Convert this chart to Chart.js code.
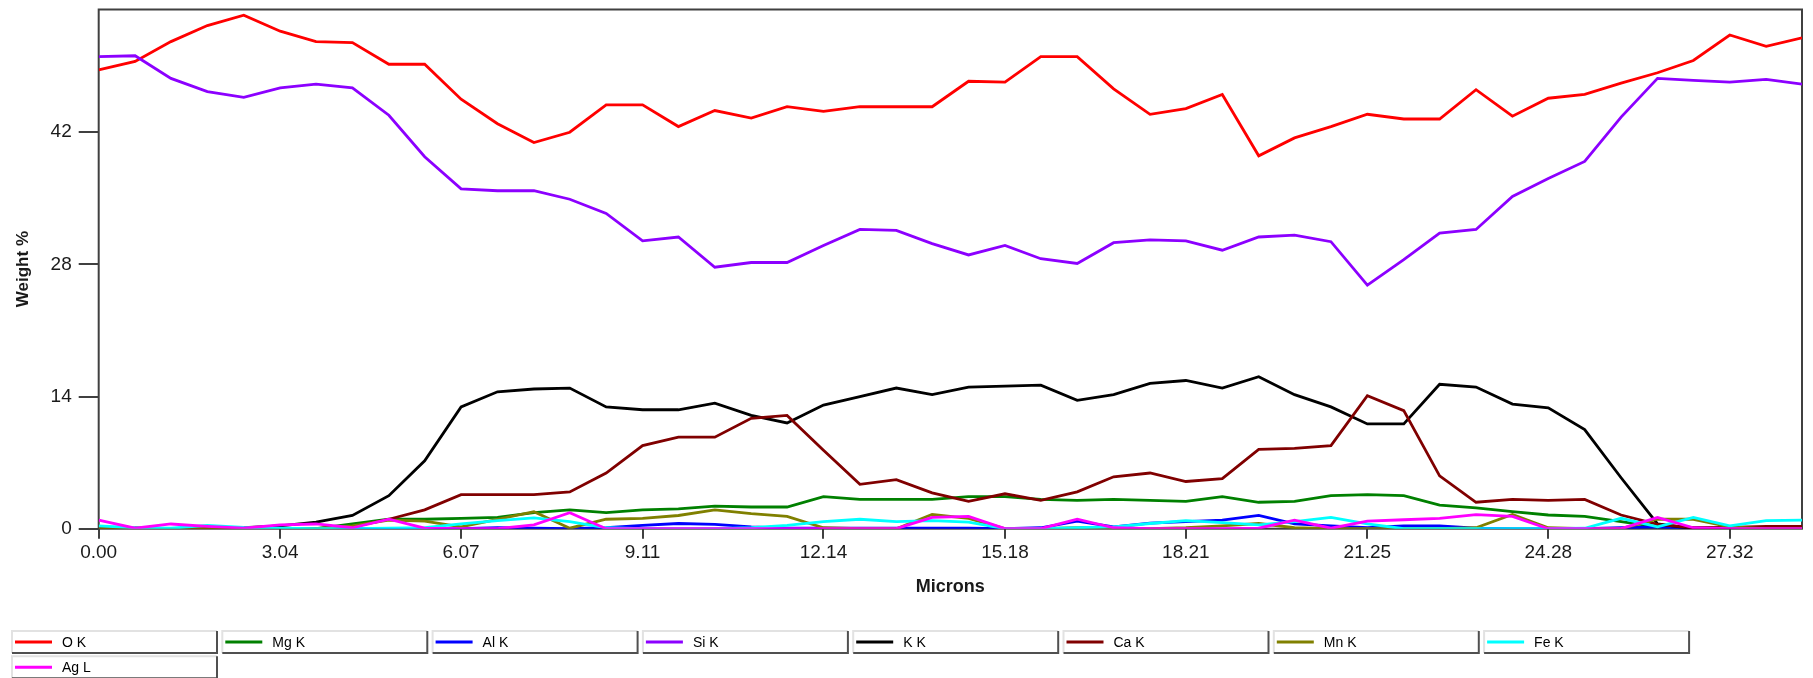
<!DOCTYPE html>
<html lang="en">
<head>
  <meta charset="UTF-8">
  <title>Line Scan - Weight % vs Microns</title>
  <script src="https://cdn.jsdelivr.net/npm/chart.js"></script>
  <style>
    body {
      margin: 0;
      background: #ffffff;
    }

    #wrap {
      width: 1813px;
      height: 678px;
    }
  </style>
</head>
<body>

  <div id="wrap"><canvas id="lineScan" width="1813" height="678"></canvas></div>

  <script>
    // distance along the scan, one reading every ~0.607 microns
    const MICRONS = [0.00, 0.61, 1.21, 1.82, 2.43, 3.04, 3.64, 4.25, 4.86, 5.46,
      6.07, 6.68, 7.29, 7.89, 8.50, 9.11, 9.71, 10.32, 10.93, 11.53,
      12.14, 12.75, 13.36, 13.96, 14.57, 15.18, 15.78, 16.39, 17.00, 17.61,
      18.21, 18.82, 19.43, 20.03, 20.64, 21.25, 21.86, 22.46, 23.07, 23.68,
      24.28, 24.89, 25.50, 26.11, 26.71, 27.32, 27.93, 28.53];

    const X_TICKS = [0.00, 3.04, 6.07, 9.11, 12.14, 15.18, 18.21, 21.25, 24.28, 27.32];
    const Y_TICKS = [0, 14, 28, 42];

    const ELEMENTS = ['O K', 'Mg K', 'Al K', 'Si K', 'K K', 'Ca K', 'Mn K', 'Fe K', 'Ag L'];
    const COLORS = ['#ff0000', '#008000', '#0000ff', '#8c00ff', '#000000', '#800000', '#808000', '#00ffff', '#ff00ff'];

    // weight % per element
    const O_K = [48.6, 49.5, 51.6, 53.3, 54.4, 52.7, 51.6, 51.5, 49.2, 49.2,
      45.5, 42.9, 40.9, 42.0, 44.9, 44.9, 42.6, 44.3, 43.5, 44.7,
      44.2, 44.7, 44.7, 44.7, 47.4, 47.3, 50.0, 50.0, 46.6, 43.9,
      44.5, 46.0, 39.5, 41.4, 42.6, 43.9, 43.4, 43.4, 46.5, 43.7,
      45.6, 46.0, 47.2, 48.3, 49.6, 52.3, 51.1, 52.0];
    const MG_K = [0, 0.1, 0, 0, 0, 0, 0, 0.5, 1.0, 1.0,
      1.1, 1.2, 1.7, 2.0, 1.7, 2.0, 2.1, 2.4, 2.3, 2.3,
      3.4, 3.1, 3.1, 3.1, 3.4, 3.4, 3.1, 3.0, 3.1, 3.0,
      2.9, 3.4, 2.8, 2.9, 3.5, 3.6, 3.5, 2.5, 2.2, 1.8,
      1.45, 1.3, 0.75, 0.2, 0.15, 0, 0, 0];
    const AL_K = [0, 0, 0, 0, 0, 0, 0, 0, 0, 0,
      0, 0.1, 0.05, 0, 0.1, 0.35, 0.55, 0.45, 0.2, 0.05,
      0.05, 0.05, 0.05, 0.05, 0.05, 0, 0.1, 0.8, 0.2, 0.6,
      0.75, 0.9, 1.4, 0.5, 0.3, 0.1, 0.3, 0.3, 0.05, 0,
      0, 0, 0.1, 0.2, 0, 0, 0, 0];
    const SI_K = [50.0, 50.1, 47.7, 46.3, 45.7, 46.7, 47.1, 46.7, 43.8, 39.4,
      36.0, 35.8, 35.8, 34.9, 33.4, 30.5, 30.9, 27.7, 28.2, 28.2,
      30.0, 31.7, 31.6, 30.2, 29.0, 30.0, 28.6, 28.1, 30.3, 30.6,
      30.5, 29.5, 30.9, 31.1, 30.4, 25.8, 28.5, 31.3, 31.7, 35.2,
      37.1, 38.9, 43.6, 47.7, 47.5, 47.3, 47.6, 47.1];
    const K_K = [0, 0, 0, 0.1, 0.1, 0.3, 0.7, 1.4, 3.5, 7.2,
      12.9, 14.5, 14.8, 14.9, 12.9, 12.6, 12.6, 13.3, 12.0, 11.2,
      13.1, 14.0, 14.9, 14.2, 15.0, 15.1, 15.2, 13.6, 14.2, 15.4,
      15.7, 14.9, 16.1, 14.2, 12.9, 11.1, 11.1, 15.3, 15.0, 13.2,
      12.8, 10.5, 5.4, 0.5, 0, 0, 0, 0];
    const CA_K = [0, 0, 0, 0, 0, 0, 0, 0.2, 1.0, 2.0,
      3.6, 3.6, 3.6, 3.9, 5.9, 8.8, 9.7, 9.7, 11.7, 12.0,
      8.3, 4.7, 5.2, 3.8, 2.9, 3.7, 3.0, 3.9, 5.5, 5.9,
      5.0, 5.3, 8.4, 8.5, 8.8, 14.1, 12.5, 5.6, 2.8, 3.1,
      3.0, 3.1, 1.45, 0.45, 0.1, 0.15, 0.25, 0.25];
    const MN_K = [0, 0, 0, 0, 0, 0, 0, 0.3, 0.9, 0.8,
      0.2, 1.0, 1.8, 0.05, 1.0, 1.1, 1.4, 2.0, 1.6, 1.3,
      0.1, 0, 0, 1.5, 1.1, 0, 0, 0.1, 0.1, 0,
      0.1, 0.3, 0.55, 0.1, 0, 0, 0, 0, 0.1, 1.5,
      0.1, 0, 0, 1.0, 1.0, 0.2, 0, 0];
    const FE_K = [0.3, 0.1, 0.05, 0.35, 0.15, 0.05, 0, 0, 0.05, 0.1,
      0.5, 0.85, 1.15, 0.75, 0.1, 0, 0, 0, 0.1, 0.35,
      0.75, 1.0, 0.75, 0.85, 0.7, 0, 0, 0.1, 0.2, 0.55,
      0.85, 0.65, 0.4, 0.75, 1.2, 0.5, 0, 0, 0, 0,
      0, 0.05, 1.1, 0.2, 1.2, 0.3, 0.85, 0.9];
    const AG_L = [0.9, 0.05, 0.5, 0.25, 0.05, 0.4, 0.5, 0.1, 1.0, 0.05,
      0, 0, 0.4, 1.7, 0, 0, 0, 0, 0, 0,
      0, 0, 0, 1.2, 1.3, 0, 0, 1.0, 0.1, 0,
      0, 0, 0.05, 0.9, 0.05, 0.8, 0.95, 1.1, 1.5, 1.3,
      0, 0, 0, 1.2, 0.1, 0, 0, 0];

    const SERIES = [O_K, MG_K, AL_K, SI_K, K_K, CA_K, MN_K, FE_K, AG_L];

    const FONT = "'Liberation Sans', Arial, sans-serif";
    const AXIS_GREY = '#404040';

    // box around the plot area
    const plotFrame = {
      id: 'plotFrame',
      beforeDatasetsDraw(chart) {
        const { ctx, chartArea: a } = chart;
        ctx.save();
        ctx.strokeStyle = AXIS_GREY;
        ctx.lineWidth = 2;
        ctx.strokeRect(a.left, a.top, a.right - a.left, a.bottom - a.top);
        ctx.restore();
      }
    };

    // legend drawn as a grid of bevelled boxes under the chart
    const boxLegend = {
      id: 'boxLegend',
      afterDraw(chart) {
        const ctx = chart.ctx;
        ctx.save();
        chart.data.datasets.forEach((ds, i) => {
          const x = 12 + (i % 8) * 210.3;
          const y = 631 + Math.floor(i / 8) * 25.3;
          const w = 205, h = 22;

          ctx.fillStyle = '#ffffff';
          ctx.fillRect(x, y, w, h);

          ctx.lineWidth = 2;
          ctx.strokeStyle = '#e2e2e2';
          ctx.beginPath();
          ctx.moveTo(x, y + h);
          ctx.lineTo(x, y);
          ctx.lineTo(x + w, y);
          ctx.stroke();

          ctx.strokeStyle = '#505050';
          ctx.beginPath();
          ctx.moveTo(x + w, y);
          ctx.lineTo(x + w, y + h);
          ctx.lineTo(x, y + h);
          ctx.stroke();

          ctx.strokeStyle = ds.borderColor;
          ctx.lineWidth = 3;
          ctx.beginPath();
          ctx.moveTo(x + 3, y + h / 2);
          ctx.lineTo(x + 40, y + h / 2);
          ctx.stroke();

          ctx.fillStyle = '#000000';
          ctx.font = '14px ' + FONT;
          ctx.textBaseline = 'middle';
          ctx.fillText(ds.label, x + 50, y + h / 2 + 1);
        });
        ctx.restore();
      }
    };

    const datasets = ELEMENTS.map((name, i) => ({
      label: name,
      data: SERIES[i].map((v, k) => ({ x: MICRONS[k], y: v })),
      borderColor: COLORS[i],
      backgroundColor: COLORS[i],
      borderWidth: 2.8,
      pointRadius: 0,
      tension: 0,
      fill: false,
      order: ELEMENTS.length - i
    }));

    new Chart(document.getElementById('lineScan'), {
      type: 'line',
      data: { datasets: datasets },
      plugins: [plotFrame, boxLegend],
      options: {
        responsive: false,
        animation: false,
        layout: { padding: { top: 9.5, right: 11, left: 0, bottom: 79.3 } },
        plugins: {
          legend: { display: false },
          tooltip: { enabled: false }
        },
        scales: {
          x: {
            type: 'linear',
            min: 0,
            max: 28.53,
            afterBuildTicks: scale => { scale.ticks = X_TICKS.map(v => ({ value: v })); },
            afterFit: scale => {
              scale.height = 70;
              scale.paddingLeft = 0;
              scale.paddingRight = 0;
            },
            border: { display: false },
            grid: {
              drawOnChartArea: false,
              drawTicks: true,
              tickLength: 10,
              color: AXIS_GREY,
              lineWidth: 2
            },
            ticks: {
              padding: 3,
              color: '#1a1a1a',
              font: { family: FONT, size: 19 },
              maxRotation: 0,
              callback: v => Number(v).toFixed(2)
            },
            title: {
              display: true,
              text: 'Microns',
              color: '#1a1a1a',
              font: { family: FONT, size: 18, weight: 'bold' },
              padding: { top: 0, bottom: 1 }
            }
          },
          y: {
            min: 0,
            max: 55,
            afterBuildTicks: scale => { scale.ticks = Y_TICKS.map(v => ({ value: v })); },
            afterFit: scale => {
              scale.width = 98.7;
              scale.paddingTop = 0;
              scale.paddingBottom = 0;
            },
            border: { display: false },
            grid: {
              drawOnChartArea: false,
              drawTicks: true,
              tickLength: 20,
              color: AXIS_GREY,
              lineWidth: 2
            },
            ticks: {
              padding: 7,
              color: '#1a1a1a',
              font: { family: FONT, size: 19 }
            },
            title: {
              display: true,
              text: 'Weight %',
              color: '#1a1a1a',
              font: { family: FONT, size: 17, weight: 'bold' },
              padding: { top: 13, bottom: 0 }
            }
          }
        }
      }
    });
  </script>

</body>
</html>
